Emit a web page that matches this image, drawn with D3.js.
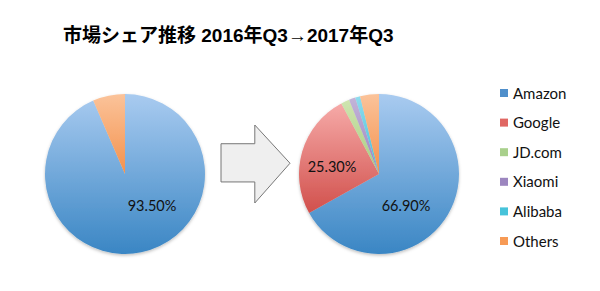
<!DOCTYPE html>
<html>
<head>
<meta charset="utf-8">
<script src="https://cdn.jsdelivr.net/npm/d3@7"></script>
<style>
  body { margin: 0; background: #fff; }
  svg { display: block; }
</style>
</head>
<body>
<div id="chart"></div>
<script>
// data
const titleText = "市場シェア推移 2016年Q3→2017年Q3";
const companies = ["Amazon", "Google", "JD.com", "Xiaomi", "Alibaba", "Others"];
const share2016 = [93.5, 0, 0, 0, 0, 6.5];
const share2017 = [66.9, 25.3, 1.7, 1.3, 1.0, 3.8];
const labelShown = ["93.50%", "25.30%", "66.90%"];

const lightColors = ["#a9cbf0", "#f6aaa8", "#cfe5b0", "#c3b4d8", "#8fdcee", "#fbc39a"];
const darkColors = ["#3a86c4", "#d1504c", "#a7cc7e", "#9a82bf", "#3fbcd6", "#f3914c"];
const legendColors = ["#4f8fcb", "#e06763", "#a9d08c", "#9c86bf", "#47c3da", "#f79a55"];

const W = 600, H = 291;
const R = 80;

const svg = d3.select("#chart").append("svg")
  .attr("width", W)
  .attr("height", H);

const defs = svg.append("defs");
companies.forEach((c, i) => {
  const g = defs.append("linearGradient")
    .attr("id", "grad" + i)
    .attr("x1", 0).attr("y1", 0).attr("x2", 0).attr("y2", 1);
  g.append("stop").attr("offset", "0%").attr("stop-color", lightColors[i]);
  g.append("stop").attr("offset", "100%").attr("stop-color", darkColors[i]);
});

const shadow = defs.append("filter").attr("id", "shadow")
  .attr("x", "-20%").attr("y", "-20%").attr("width", "140%").attr("height", "140%");
shadow.append("feDropShadow")
  .attr("dx", 0).attr("dy", 1.5).attr("stdDeviation", 1.5)
  .attr("flood-color", "#000").attr("flood-opacity", 0.25);

svg.append("text")
  .attr("x", 63)
  .attr("y", 42)
  .attr("font-family", "'Liberation Sans', 'Noto Sans CJK JP', sans-serif")
  .attr("font-weight", "bold")
  .attr("font-size", 19)
  .attr("fill", "#000")
  .text(titleText);

const pie = d3.pie().sort(null).value(d => d);
const arc = d3.arc().innerRadius(0).outerRadius(R);

function drawPie(values, cx, cy) {
  const g = svg.append("g")
    .attr("transform", `translate(${cx},${cy})`)
    .attr("filter", "url(#shadow)");
  g.selectAll("path")
    .data(pie(values).filter(d => d.value > 0))
    .join("path")
    .attr("d", arc)
    .attr("fill", d => `url(#grad${d.index})`);
  return g;
}

drawPie(share2016, 125, 174);
drawPie(share2017, 379, 174);

// arrow
const arrowX = d3.scaleLinear().domain([0, 1]).range([221, 290]);
const arrowY = d3.scaleLinear().domain([0, 1]).range([125, 203]);
const arrowPts = [[0, 0.24], [0.49, 0.24], [0.49, 0], [1, 0.49], [0.49, 1], [0.49, 0.73], [0, 0.73]];
svg.append("path")
  .attr("d", d3.line().x(p => arrowX(p[0])).y(p => arrowY(p[1]))(arrowPts) + "Z")
  .attr("fill", "#efefef")
  .attr("stroke", "#777")
  .attr("stroke-width", 1);

// data labels
const labelFont = "Lato, 'Open Sans', sans-serif";
const labels = [
  { t: labelShown[0], x: 152, y: 211 },
  { t: labelShown[1], x: 332, y: 172 },
  { t: labelShown[2], x: 406, y: 211 }
];
svg.selectAll("text.lbl")
  .data(labels)
  .join("text")
  .attr("class", "lbl")
  .attr("x", d => d.x)
  .attr("y", d => d.y)
  .attr("text-anchor", "middle")
  .attr("font-family", labelFont)
  .attr("font-size", 14.5)
  .attr("fill", "#111")
  .text(d => d.t);

// legend
const legendY = d3.scalePoint().domain(companies).range([93, 241]);
const leg = svg.append("g");
const item = leg.selectAll("g")
  .data(companies)
  .join("g")
  .attr("transform", c => `translate(500,${legendY(c)})`);
item.append("rect")
  .attr("x", 0).attr("y", -4)
  .attr("width", 8).attr("height", 8)
  .attr("fill", (c, i) => legendColors[i]);
item.append("text")
  .attr("x", 13)
  .attr("y", 5.5)
  .attr("font-family", labelFont)
  .attr("font-size", 15)
  .attr("fill", "#111")
  .text(c => c);
</script>
</body>
</html>
